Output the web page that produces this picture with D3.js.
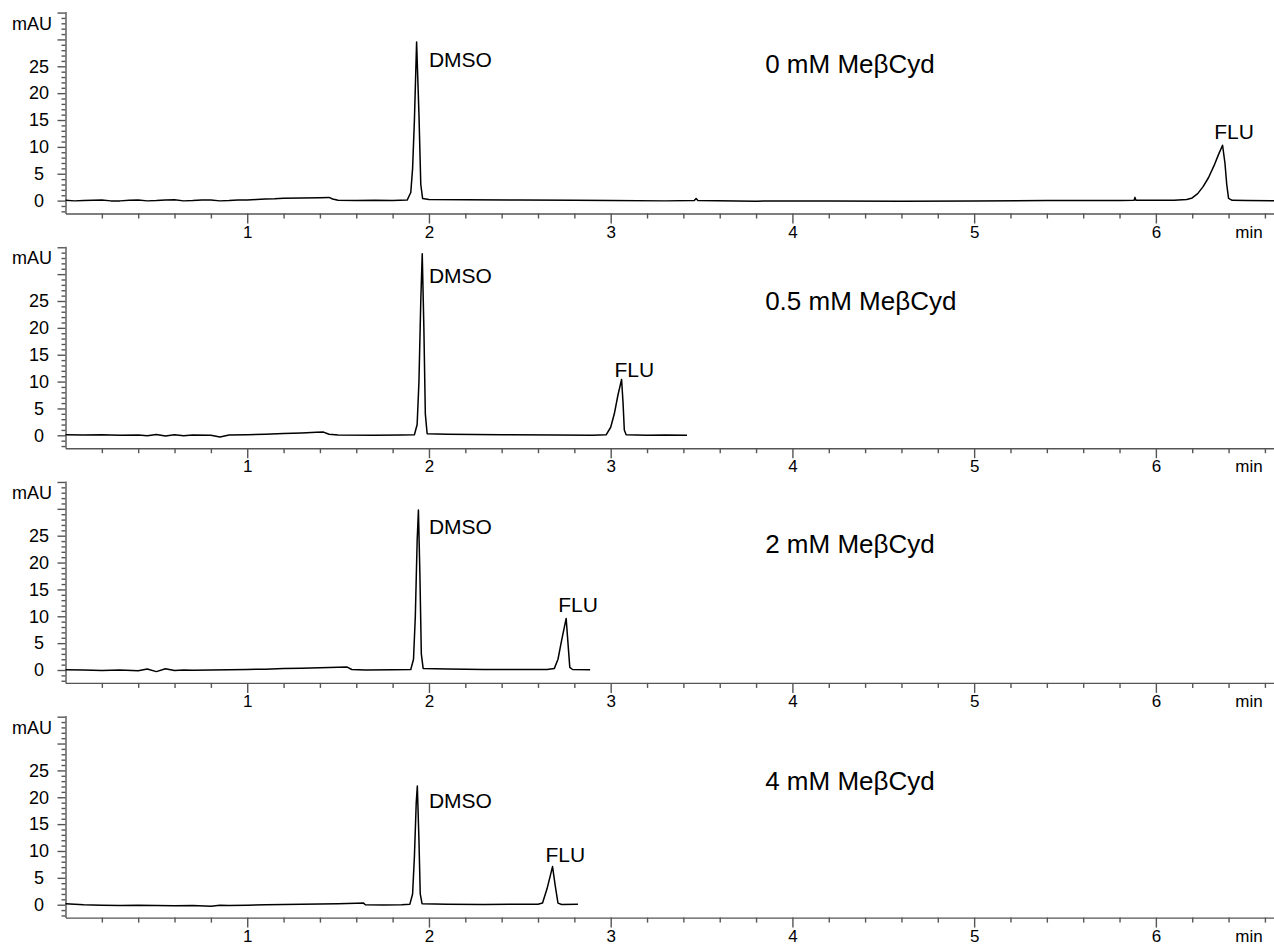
<!DOCTYPE html>
<html>
<head>
<meta charset="utf-8">
<script src="https://cdn.jsdelivr.net/npm/d3@7"></script>
<style>
  body { margin: 0; background: #fff; }
  svg text { font-family: "Liberation Sans", Arial, Helvetica, sans-serif; fill: #000; }
  .axis path, .axis line { stroke: #555; stroke-width: 1.4; }
  .trace { fill: none; stroke: #000; stroke-width: 1.5; stroke-linejoin: round; }
</style>
</head>
<body>
<svg id="chart" width="1274" height="947"></svg>
<script>
// Panel titles (MeβCyd concentration, mM)
const CONCS = ['0', '0.5', '2', '4'];

// Chromatogram traces, [time (min), absorbance (mAU)]
const TRACE_0 = [
  [0.00, 0.05], [0.05, -0.05], [0.10, 0.00], [0.15, 0.08], [0.20, 0.10], [0.25, -0.05],
  [0.30, -0.05], [0.35, 0.05], [0.40, 0.10], [0.45, -0.05], [0.50, 0.00], [0.55, 0.10],
  [0.60, 0.15], [0.65, -0.05], [0.70, 0.00], [0.75, 0.10], [0.80, 0.10], [0.85, -0.05],
  [0.90, 0.00], [0.95, 0.10], [1.00, 0.10], [1.05, 0.20], [1.10, 0.30], [1.15, 0.35],
  [1.20, 0.45], [1.30, 0.50], [1.40, 0.55], [1.45, 0.60], [1.47, 0.30], [1.50, 0.05],
  [1.60, 0.00], [1.70, 0.05], [1.80, 0.00], [1.88, 0.10],
  [1.90, 1.5], [1.91, 6], [1.92, 15], [1.932, 29.5], [1.945, 16], [1.955, 3], [1.965, 0.4],
  [2.00, 0.20], [2.20, 0.15], [2.50, 0.10], [2.80, 0.05], [3.00, 0.00], [3.30, -0.05],
  [3.46, 0.00], [3.47, 0.40], [3.48, 0.00], [3.80, -0.10], [4.20, -0.05], [4.60, -0.10],
  [5.00, -0.05], [5.40, 0.00], [5.80, 0.00], [5.88, 0.05], [5.885, 0.6], [5.89, 0.05],
  [6.10, 0.05], [6.17, 0.2], [6.20, 0.5], [6.23, 1.3], [6.26, 2.6], [6.29, 4.3],
  [6.32, 6.5], [6.345, 8.6], [6.367, 10.3], [6.38, 7], [6.39, 3], [6.40, 0.4],
  [6.42, 0.05], [6.50, 0.00], [6.65, -0.05]
];
const TRACE_05 = [
  [0.00, 0.10], [0.10, 0.05], [0.20, 0.10], [0.30, 0.00], [0.40, 0.05], [0.45, -0.10],
  [0.50, 0.15], [0.55, -0.15], [0.60, 0.10], [0.65, -0.10], [0.70, 0.05], [0.80, 0.00],
  [0.85, -0.30], [0.90, 0.05], [1.00, 0.10], [1.10, 0.20], [1.20, 0.35], [1.30, 0.45],
  [1.38, 0.55], [1.42, 0.60], [1.45, 0.20], [1.50, 0.05], [1.70, 0.00], [1.85, 0.05],
  [1.92, 0.10], [1.935, 2], [1.945, 10], [1.955, 25], [1.963, 33.8], [1.972, 20],
  [1.98, 4], [1.99, 0.3], [2.10, 0.20], [2.40, 0.10], [2.70, 0.05], [2.90, 0.00],
  [2.975, 0.1], [3.00, 1.5], [3.02, 4], [3.04, 7.5], [3.06, 10.4], [3.068, 6],
  [3.075, 1], [3.085, 0.1], [3.20, 0.00], [3.30, 0.05], [3.42, 0.00]
];
const TRACE_2 = [
  [0.00, 0.05], [0.10, 0.00], [0.20, -0.10], [0.30, 0.00], [0.40, -0.15], [0.45, 0.20],
  [0.50, -0.30], [0.55, 0.25], [0.60, -0.10], [0.65, 0.00], [0.70, -0.05], [0.80, 0.00],
  [0.90, 0.05], [1.00, 0.10], [1.10, 0.15], [1.20, 0.30], [1.30, 0.35], [1.40, 0.40],
  [1.50, 0.50], [1.55, 0.55], [1.575, 0.10], [1.65, 0.00], [1.80, 0.05], [1.90, 0.10],
  [1.915, 2], [1.925, 10], [1.935, 24], [1.942, 29.8], [1.95, 18], [1.958, 3],
  [1.968, 0.3], [2.10, 0.20], [2.30, 0.10], [2.50, 0.10], [2.65, 0.10], [2.69, 0.3],
  [2.71, 2], [2.73, 5.5], [2.755, 9.6], [2.765, 5], [2.775, 0.5], [2.79, 0.1], [2.887, 0.05]
];
const TRACE_4 = [
  [0.00, 0.20], [0.05, 0.10], [0.10, 0.00], [0.20, -0.10], [0.30, -0.15], [0.40, -0.10],
  [0.50, -0.15], [0.60, -0.20], [0.70, -0.15], [0.80, -0.30], [0.85, -0.10], [0.90, -0.15],
  [1.00, -0.10], [1.10, 0.00], [1.20, 0.05], [1.30, 0.10], [1.40, 0.15], [1.50, 0.20],
  [1.60, 0.25], [1.64, 0.30], [1.65, 0.00], [1.75, -0.05], [1.85, 0.00], [1.895, 0.1],
  [1.91, 2], [1.92, 9], [1.93, 19], [1.936, 22.1], [1.945, 12], [1.952, 2], [1.962, 0.2],
  [2.10, 0.10], [2.30, 0.05], [2.50, 0.10], [2.60, 0.10], [2.625, 0.3], [2.65, 3],
  [2.68, 7.1], [2.695, 3.5], [2.71, 0.3], [2.73, 0.05], [2.82, 0.10]
];
const TRACES = [TRACE_0, TRACE_05, TRACE_2, TRACE_4];

// Peak label anchors [min, mAU] (DMSO is left-anchored, FLU is centred)
const DMSO_AT = [[2.0, 26.3], [2.0, 29.8], [2.0, 26.7], [2.0, 19.3]];
const FLU_AT = [[6.43, 12.8], [3.13, 12.2], [2.82, 12.2], [2.75, 9.3]];
const TITLE_AT = [[3.85, 25.5], [3.85, 25.0], [3.85, 23.4], [3.85, 23.0]];

// Ticks
const X_MAJOR = [1, 2, 3, 4, 5, 6];
const Y_MAJOR = [0, 5, 10, 15, 20, 25];
const Y_UNLABELED = [30, 35];

const XDOM = [0, 6.65];
const YDOM = [-2.4, 35.2];
const PANEL_TOP = 11.5, PANEL_STEP = 234.7, PANEL_H = 202;

let svg = d3.select('#chart');
let x = d3.scaleLinear().domain(XDOM).range([65.5, 1274]);

// minor ticks: every 0.2 min / every 1 mAU
let xMinor = d3.range(1, 34).map(k => k / 5).filter(v => Math.abs(v - Math.round(v)) > 1e-6);
let yMinor = d3.range(-2, 36).filter(v => v % 5 !== 0);

TRACES.forEach((trace, i) => {
  let top = PANEL_TOP + i * PANEL_STEP;
  let bottom = top + PANEL_H;
  let y = d3.scaleLinear().domain(YDOM).range([bottom, top]);
  let g = svg.append('g').attr('class', 'panel');

  // x axis: minor then major ticks
  g.append('g').attr('class', 'axis')
    .attr('transform', `translate(0,${bottom})`)
    .call(d3.axisBottom(x).tickValues(xMinor).tickSize(5).tickSizeOuter(0).tickFormat(''));
  let xa = g.append('g').attr('class', 'axis')
    .attr('transform', `translate(0,${bottom})`)
    .call(d3.axisBottom(x).tickValues(X_MAJOR).tickSize(10).tickPadding(2)
      .tickSizeOuter(0).tickFormat(d3.format('d')));
  xa.select('.domain').remove();
  xa.selectAll('text').attr('font-size', 17).style('font-family', null);
  g.append('text')
    .attr('x', 1249).attr('y', bottom + 12).attr('dy', '0.71em')
    .attr('text-anchor', 'middle').attr('font-size', 17)
    .text('min');

  // y axis
  g.append('g').attr('class', 'axis')
    .attr('transform', 'translate(65.5,0)')
    .call(d3.axisLeft(y).tickValues(yMinor).tickSize(4).tickSizeOuter(0).tickFormat(''));
  let ya = g.append('g').attr('class', 'axis')
    .attr('transform', 'translate(65.5,0)')
    .call(d3.axisLeft(y).tickValues(Y_MAJOR.concat(Y_UNLABELED)).tickSize(8).tickSizeOuter(0)
      .tickFormat(v => Y_UNLABELED.includes(v) ? '' : v));
  ya.select('.domain').remove();
  ya.selectAll('text')
    .attr('x', -26.5).attr('text-anchor', 'middle')
    .attr('font-size', 18).style('font-family', null);
  g.append('text')
    .attr('x', 32).attr('y', y(33)).attr('dy', '0.35em')
    .attr('text-anchor', 'middle').attr('font-size', 18)
    .text('mAU');

  // chromatogram
  let line = d3.line().x(d => x(d[0])).y(d => y(d[1]));
  g.append('path').attr('class', 'trace').datum(trace).attr('d', line);

  // annotations
  g.append('text')
    .attr('x', x(DMSO_AT[i][0])).attr('y', y(DMSO_AT[i][1])).attr('dy', '0.35em')
    .attr('font-size', 21).text('DMSO');
  g.append('text')
    .attr('x', x(FLU_AT[i][0])).attr('y', y(FLU_AT[i][1])).attr('dy', '0.35em')
    .attr('text-anchor', 'middle').attr('font-size', 21).text('FLU');
  g.append('text')
    .attr('x', x(TITLE_AT[i][0])).attr('y', y(TITLE_AT[i][1])).attr('dy', '0.35em')
    .attr('font-size', 26).text(`${CONCS[i]} mM MeβCyd`);
});
</script>
</body>
</html>
